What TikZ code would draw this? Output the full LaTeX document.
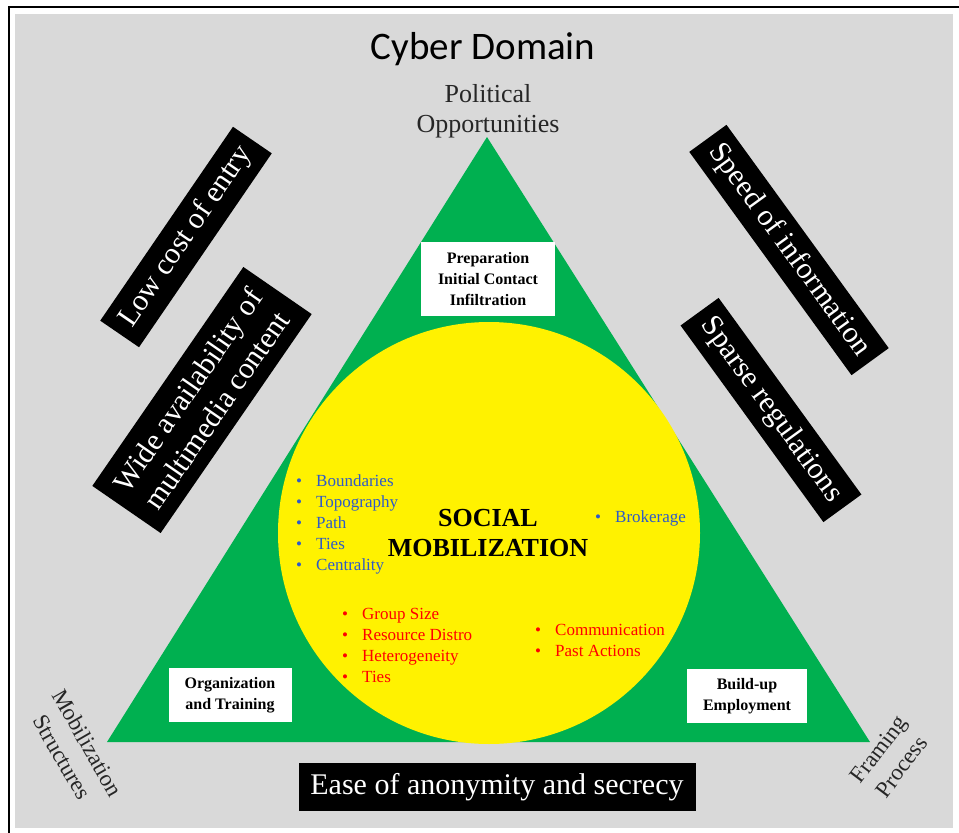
\documentclass[tikz,border=0pt]{standalone}
\usepackage{fontspec}
\setmainfont{Liberation Serif}
\newfontfamily\titlefont{Carlito}
\definecolor{tgreen}{RGB}{0,176,80}
\definecolor{bgrey}{RGB}{217,217,217}
\definecolor{lblue}{RGB}{46,90,200}
\newcommand{\bul}[1]{\makebox[20pt][l]{\textbullet}#1}

\begin{document}
\begin{tikzpicture}[x=1pt,y=-1pt,
    blackbox/.style={fill=black,text=white,inner sep=0pt,align=center,font=\fontsize{30}{35}\selectfont},
    whitebox/.style={fill=white,inner sep=0pt,align=center,font=\bfseries\fontsize{16}{21}\selectfont},
    corner/.style={align=center,text=black!85,inner sep=0pt,font=\fontsize{23}{29}\selectfont},
    itemlist/.style={align=left,inner sep=0pt,anchor=north west,font=\fontsize{17}{21}\selectfont}]
  \useasboundingbox (0,0) rectangle (959,833);
  \fill[white] (0,0) rectangle (959,833);
  \draw[line width=2pt] (9,7) rectangle (970,845);
  \fill[bgrey] (15,14) rectangle (953,828);
  % triangle and circle
  \coordinate (top) at (487,137);
  \coordinate (bl) at (107,742);
  \coordinate (br) at (870,742);
  \fill[tgreen] (top) -- (bl) -- (br) -- cycle;
  \fill[yellow] (489,533) circle (211);
  % titles
  \node[font=\titlefont\fontsize{39}{44}\selectfont] (title) at (483,49) {Cyber Domain};
  \node[align=center,font=\fontsize{26}{30}\selectfont,text=black!85] (polop) at (488,111) {Political\\Opportunities};
  \node[corner,rotate=-60] (mobstr) at (75,750) {Mobilization\\Structures};
  \node[corner,rotate=53] (frpro) at (890,758) {Framing\\Process};
  % black boxes
  \node[blackbox,rotate=55.6,minimum width=235,minimum height=47] (lowcost) at (186,237) {Low cost of entry};
  \node[blackbox,rotate=55.4,minimum width=266,minimum height=83] (wide) at (202,400) {Wide availability of\\multimedia content};
  \node[blackbox,rotate=-54,minimum width=276,minimum height=46] (speed) at (789,250) {Speed of information};
  \node[blackbox,rotate=-54,minimum width=243,minimum height=47] (sparse) at (771,410) {Sparse regulations};
  \node[blackbox,minimum width=397,minimum height=48] (ease) at (497,787) {Ease of anonymity and secrecy};
  % white boxes
  \node[whitebox,minimum width=134,minimum height=74] (prep) at (488,279) {Preparation\\Initial Contact\\Infiltration};
  \node[whitebox,minimum width=123,minimum height=54] (org) at (230,695) {Organization\\and Training};
  \node[whitebox,minimum width=120,minimum height=54] (build) at (747,696) {Build-up\\Employment};
  % circle content
  \node[align=center,font=\bfseries\fontsize{26}{30}\selectfont] (social) at (488,533) {SOCIAL\\MOBILIZATION};
  \node[itemlist,text=lblue] (netlist) at (296,474) {\bul{Boundaries}\\\bul{Topography}\\\bul{Path}\\\bul{Ties}\\\bul{Centrality}};
  \node[itemlist,text=lblue] (broker) at (595,510) {\bul{Brokerage}};
  \node[itemlist,text=red] (reslist) at (342,608) {\bul{Group Size}\\\bul{Resource Distro}\\\bul{Heterogeneity}\\\bul{Ties}};
  \node[itemlist,text=red] (commlist) at (535,624) {\bul{Communication}\\\bul{Past Actions}};
\end{tikzpicture}
\end{document}
